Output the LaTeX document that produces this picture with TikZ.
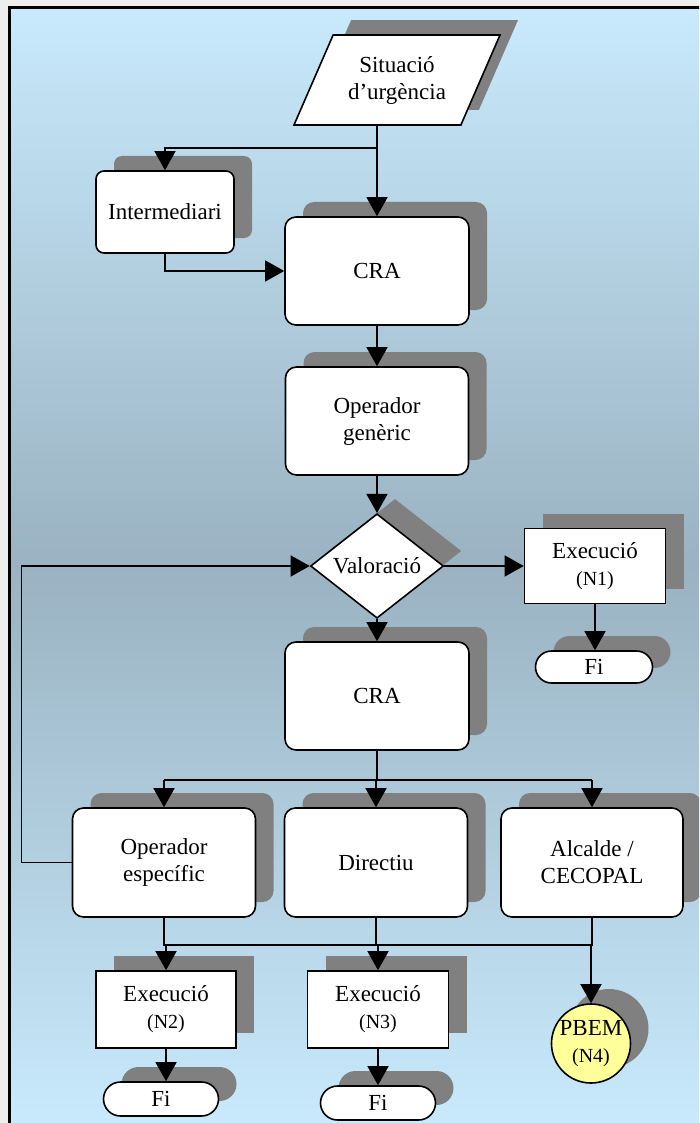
\documentclass[tikz,border=0pt]{standalone}
\usepackage{fontspec}
\setmainfont{Liberation Serif}
\usetikzlibrary{shapes.geometric,shadows,arrows.meta}

\definecolor{bgtop}{RGB}{200,234,252}
\definecolor{bgmid}{RGB}{154,178,194}
\definecolor{shadegray}{RGB}{128,128,128}
\definecolor{pbemyellow}{RGB}{255,255,153}
\definecolor{outergray}{RGB}{238,238,238}

\newcommand{\nsmall}{\fontsize{20}{24}\selectfont}

\begin{document}
\begin{tikzpicture}[x=1pt,y=-1pt]

		\tikzstyle{shad}=[drop shadow={shadow xshift=18pt,shadow yshift=15pt,fill=shadegray,opacity=1}]
		\tikzstyle{rbox}=[draw, fill=white, line width=1.6pt, rounded corners=11pt, shad, align=center, font=\fontsize{23}{27}\selectfont]
		\tikzstyle{ebox}=[draw, fill=white, line width=1.6pt, shad, align=center, font=\fontsize{23}{27}\selectfont]
		\tikzstyle{fibox}=[draw, fill=white, line width=1.6pt, rounded corners=16pt, shad, font=\fontsize{23}{27}\selectfont]
		\tikzstyle{link}=[line width=1.4pt]
		\tikzstyle{arr}=[line width=1.4pt, -{Triangle[width=21pt,length=19pt]}]

		\useasboundingbox (0,0) rectangle (699,1123);
		\clip (0,0) rectangle (699,1123);

		%background and frame
		\fill [outergray] (0,0) rectangle (699,1123);
		\fill [top color=bgtop, bottom color=bgtop, middle color=bgmid] (10,8) rectangle (699,1123);
		\draw [line width=3pt] (9.5,1130) -- (9.5,7.5) -- (705,7.5);

		%start
		\node (sit) [trapezium, trapezium left angle=66.5, trapezium right angle=113.5, trapezium stretches body, minimum width=206pt, inner ysep=21pt, draw, fill=white, line width=1.6pt, shad, align=center, font=\fontsize{23}{27}\selectfont] at (397,80) {Situació\\d’urgència};

		%first level
		\node (inter) [rbox, rounded corners=8pt, minimum width=138pt, minimum height=82pt] at (165,212) {Intermediari};
		\node (cra1) [rbox, minimum width=184pt, minimum height=108pt] at (377,271) {CRA};
		\node (oper) [rbox, minimum width=183pt, minimum height=108pt] at (377,421) {Operador\\genèric};

		%decision
		\node (val) [diamond, draw, fill=white, line width=1.6pt, shad, inner sep=0pt, minimum width=133pt, minimum height=94pt, font=\fontsize{23}{27}\selectfont] at (377,566) {Valoració};
		\node (ex1) [ebox, minimum width=141pt, minimum height=75pt] at (595,566) {Execució\\{\nsmall (N1)}};
		\node (fi1) [fibox, minimum width=117pt, minimum height=32pt] at (594,667) {Fi};

		%second level
		\node (cra2) [rbox, minimum width=184pt, minimum height=108pt] at (377,696) {CRA};
		\node (opesp) [rbox, minimum width=183pt, minimum height=109pt] at (164,862.5) {Operador\\específic};
		\node (dir) [rbox, minimum width=183pt, minimum height=109pt] at (376,862.5) {Directiu};
		\node (alc) [rbox, minimum width=182pt, minimum height=109pt] at (592,862.5) {Alcalde /\\CECOPAL};

		%executions
		\node (ex2) [ebox, minimum width=140pt, minimum height=77pt] at (166,1009.5) {Execució\\{\nsmall (N2)}};
		\node (ex3) [ebox, minimum width=141pt, minimum height=77pt] at (378,1009.5) {Execució\\{\nsmall (N3)}};
		\node (pbem) [circle, draw, fill=pbemyellow, line width=1.6pt, shad, inner sep=0pt, minimum size=79pt, align=center, font=\fontsize{23}{27}\selectfont] at (591,1043.5) {PBEM\\{\nsmall (N4)}};
		\node (fi2) [fibox, minimum width=115pt, minimum height=34pt, rounded corners=17pt] at (161,1099) {Fi};
		\node (fi3) [fibox, minimum width=115pt, minimum height=34pt, rounded corners=17pt] at (378,1103) {Fi};

		%connectors top
		\coordinate (split1) at (377,148);
		\draw [arr] (sit.south -| cra1.north) -- (cra1.north);
		\draw [arr] (split1) -| (inter.north);
		\draw [arr] (inter.south) |- (cra1.west);
		\draw [arr] (cra1.south) -- (oper.north);
		\draw [arr] (oper.south) -- (val.north);

		%connectors decision
		\draw [arr] (val.east) -- (ex1.west);
		\draw [arr] (ex1.south) -- (ex1.south |- fi1.north);
		\draw [arr] (val.south) -- (cra2.north);

		%split to second level
		\coordinate (split2) at (377,780);
		\draw [link] (cra2.south) -- (split2);
		\draw [link] (split2 -| opesp.north) -- (split2 -| alc.north);
		\draw [arr] (split2 -| opesp.north) -- (opesp.north);
		\draw [arr] (split2 -| dir.north) -- (dir.north);
		\draw [arr] (split2 -| alc.north) -- (alc.north);

		%loop back to decision
		\draw [arr] (opesp.west) -- ++(-50,0) |- (val.west);

		%merge to executions
		\coordinate (merge) at (377,945);
		\draw [link] (opesp.south) -- (opesp.south |- merge) -- (alc.south |- merge) -- (alc.south);
		\draw [link] (dir.south) -- (dir.south |- merge);
		\draw [arr] (merge -| ex2.north) -- (ex2.north);
		\draw [arr] (merge -| ex3.north) -- (ex3.north);
		\draw [arr] (merge -| pbem.north) -- (pbem.north);

		%end points
		\draw [arr] (ex2.south) -- (ex2.south |- fi2.north);
		\draw [arr] (ex3.south) -- (ex3.south |- fi3.north);

\end{tikzpicture}
\end{document}
